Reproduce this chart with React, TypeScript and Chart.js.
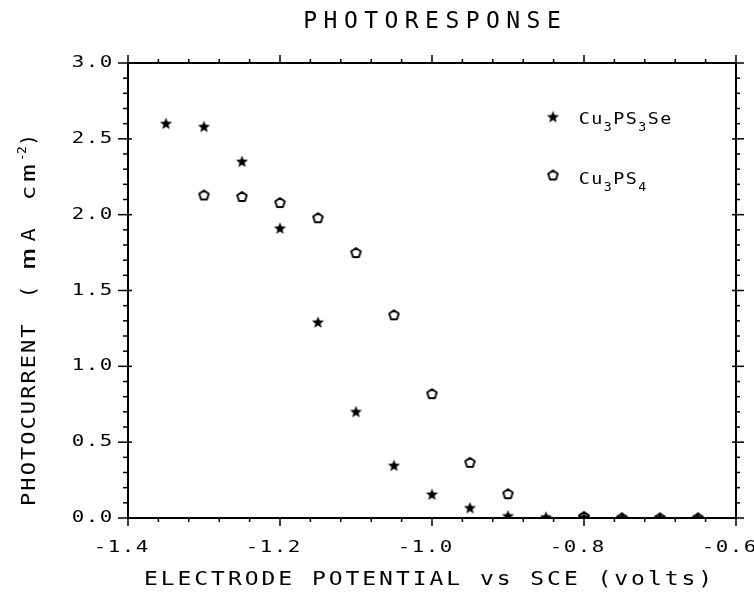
import React, { useEffect, useRef } from "react";
import { Chart, registerables } from "chart.js";

Chart.register(...registerables);

// ---------- data ----------
const cu3ps3sePotentials = [-1.35, -1.3, -1.25, -1.2, -1.15, -1.1, -1.05, -1.0, -0.95, -0.9, -0.85, -0.8, -0.75, -0.7, -0.65];
const cu3ps3seCurrent = [2.6, 2.58, 2.35, 1.91, 1.29, 0.7, 0.345, 0.155, 0.066, 0.013, 0.005, 0.005, 0.0, 0.0, 0.0];
const cu3ps4Potentials = [-1.3, -1.25, -1.2, -1.15, -1.1, -1.05, -1.0, -0.95, -0.9, -0.8, -0.75, -0.7, -0.65];
const cu3ps4Current = [2.13, 2.12, 2.08, 1.98, 1.75, 1.34, 0.82, 0.367, 0.16, 0.01, 0.0, 0.0, 0.0];

const xTickValues = [-1.4, -1.2, -1.0, -0.8, -0.6];
const xTickLabels = ["-1.4", "-1.2", "-1.0", "-0.8", "-0.6"];
const yTickValues = [0, 0.5, 1.0, 1.5, 2.0, 2.5, 3.0];
const yTickLabels = ["0.0", "0.5", "1.0", "1.5", "2.0", "2.5", "3.0"];
const xMinorStep = 0.04;
const yMinorStep = 0.1;

const chartTitle = "PHOTORESPONSE";
const xTitle = "ELECTRODE POTENTIAL vs SCE (volts)";

const MONO = '"DejaVu Sans Mono"';

function makeStar(): HTMLCanvasElement {
  const c = document.createElement("canvas");
  c.width = 15;
  c.height = 15;
  const g = c.getContext("2d")!;
  g.fillStyle = "#000";
  g.beginPath();
  const cx = 7.5, cy = 7.8, R = 6.3, r = 2.7;
  for (let i = 0; i < 10; i++) {
    const a = -Math.PI / 2 + (i * Math.PI) / 5;
    const rad = i % 2 === 0 ? R : r;
    const px = cx + rad * Math.cos(a);
    const py = cy + rad * Math.sin(a);
    if (i === 0) g.moveTo(px, py);
    else g.lineTo(px, py);
  }
  g.closePath();
  g.fill();
  return c;
}

function makePentagon(): HTMLCanvasElement {
  const c = document.createElement("canvas");
  c.width = 15;
  c.height = 15;
  const g = c.getContext("2d")!;
  g.strokeStyle = "#000";
  g.lineWidth = 1.9;
  g.lineJoin = "round";
  g.beginPath();
  const cx = 7.5, cy = 7.9, R = 5.0;
  for (let i = 0; i < 5; i++) {
    const a = -Math.PI / 2 + (i * 2 * Math.PI) / 5;
    const px = cx + R * Math.cos(a);
    const py = cy + R * Math.sin(a);
    if (i === 0) g.moveTo(px, py);
    else g.lineTo(px, py);
  }
  g.closePath();
  g.stroke();
  return c;
}

// draw monospaced text char by char in cells
function drawMono(
  ctx: CanvasRenderingContext2D,
  text: string,
  x: number,
  y: number,
  size: number,
  cell: number,
  sx: number,
  align: "left" | "center" | "right",
  baseline: CanvasTextBaseline = "middle"
) {
  ctx.save();
  ctx.font = `${size}px ${MONO}`;
  ctx.textAlign = "center";
  ctx.textBaseline = baseline;
  ctx.fillStyle = "#000";
  const total = text.length * cell;
  const start = align === "left" ? x : align === "right" ? x - total : x - total / 2;
  for (let i = 0; i < text.length; i++) {
    const cx = start + cell * (i + 0.5);
    ctx.save();
    ctx.translate(cx, y);
    ctx.scale(sx, 1);
    ctx.fillText(text[i], 0, 0);
    ctx.restore();
  }
  ctx.restore();
  return start + total;
}

// legend text with subscripts: segments [text, isSub]
function drawRich(
  ctx: CanvasRenderingContext2D,
  segs: [string, boolean][],
  x: number,
  baseY: number
) {
  let cur = x;
  for (const [t, sub] of segs) {
    if (sub) {
      cur = drawMono(ctx, t, cur, baseY + 7, 12, 9.5, 1.1, "left", "alphabetic");
    } else {
      cur = drawMono(ctx, t, cur, baseY, 16, 12.5, 1.15, "left", "alphabetic");
    }
  }
}

export default function App() {
  const ref = useRef<HTMLCanvasElement>(null);

  useEffect(() => {
    const canvas = ref.current!;
    const star = makeStar();
    const pent = makePentagon();

    const framePlugin = {
      id: "frameAndText",
      afterDraw(chart: any) {
        const ctx: CanvasRenderingContext2D = chart.ctx;
        const { left, right, top, bottom } = chart.chartArea;
        const xs = chart.scales.x;
        const ys = chart.scales.y;
        ctx.save();
        ctx.strokeStyle = "#000";
        ctx.lineWidth = 2;
        ctx.strokeRect(left, top, right - left, bottom - top);

        ctx.lineWidth = 1.5;
        const line = (x1: number, y1: number, x2: number, y2: number) => {
          ctx.beginPath();
          ctx.moveTo(x1, y1);
          ctx.lineTo(x2, y2);
          ctx.stroke();
        };
        const xMin = xTickValues[0];
        const xMax = xTickValues[xTickValues.length - 1];
        const nx = Math.round((xMax - xMin) / xMinorStep);
        for (let i = 0; i <= nx; i++) {
          const v = xMin + i * xMinorStep;
          const px = xs.getPixelForValue(v);
          const major = i % 5 === 0;
          line(px, bottom, px, bottom + (major ? 8 : 4));
          line(px, top, px, top - (major ? 8 : 4));
        }
        const yMin = yTickValues[0];
        const yMax = yTickValues[yTickValues.length - 1];
        const ny = Math.round((yMax - yMin) / yMinorStep);
        for (let j = 0; j <= ny; j++) {
          const v = yMin + j * yMinorStep;
          const py = ys.getPixelForValue(v);
          const major = j % 5 === 0;
          line(left - (major ? 10 : 5), py, left + (major ? 4 : 0), py);
          line(right - (major ? 4 : 0), py, right + (major ? 8 : 4), py);
        }

        // tick labels
        const cell = 14;
        xTickValues.forEach((v, i) => {
          const px = xs.getPixelForValue(v);
          drawMono(ctx, xTickLabels[i], px - cell / 2, 548, 16, cell, 1.3, "center");
        });
        yTickValues.forEach((v, i) => {
          const py = ys.getPixelForValue(v);
          drawMono(ctx, yTickLabels[i], 113, py, 16, cell, 1.3, "right");
        });

        // title
        drawMono(ctx, chartTitle, (left + right) / 2, 22, 23, 20.3, 1.0, "center");
        // x axis title
        drawMono(ctx, xTitle, 428, 580, 20, 16.8, 1.15, "center");

        // y axis title (rotated)
        ctx.save();
        ctx.translate(35, 0);
        ctx.rotate(-Math.PI / 2);
        drawMono(ctx, "PHOTOCURRENT", -507, 0, 20, 15.3, 1.1, "left", "alphabetic");
        const items: [string, number, number, number, number][] = [
          ["(", 292, 20, 0, 1.0],
          ["m", 259, 20, 0, 1.8],
          ["A", 235, 20, 0, 1.1],
          ["c", 193, 20, 0, 1.2],
          ["m", 173, 20, 0, 1.5],
          ["-", 157, 13, -9, 1.0],
          ["2", 150, 13, -9, 1.0],
          [")", 140, 20, 0, 1.0],
        ];
        for (const [ch, sy, sz, off, sxx] of items) {
          drawMono(ctx, ch, -sy, off, sz, 12, sxx, "center", "alphabetic");
        }
        ctx.restore();

        // legend
        ctx.drawImage(star, 553 - star.width / 2, 117 - star.height / 2);
        drawRich(ctx, [["Cu", false], ["3", true], ["PS", false], ["3", true], ["Se", false]], 578, 123.5);
        ctx.drawImage(pent, 553 - pent.width / 2, 175 - pent.height / 2);
        drawRich(ctx, [["Cu", false], ["3", true], ["PS", false], ["4", true]], 578, 183.5);

        ctx.restore();
      },
    };

    const chart = new Chart(canvas, {
      type: "scatter",
      data: {
        datasets: [
          {
            label: "Cu3PS3Se",
            data: cu3ps3sePotentials.map((x, i) => ({ x, y: cu3ps3seCurrent[i] })),
            pointStyle: star as any,
            pointRadius: 6,
            clip: 0 as any,
            showLine: false,
          },
          {
            label: "Cu3PS4",
            data: cu3ps4Potentials.map((x, i) => ({ x, y: cu3ps4Current[i] })),
            pointStyle: pent as any,
            pointRadius: 6,
            clip: 0 as any,
            showLine: false,
          },
        ],
      },
      options: {
        responsive: false,
        animation: false,
        events: [],
        layout: { padding: { top: 63, right: 18, left: 0, bottom: 0 } },
        plugins: {
          legend: { display: false },
          tooltip: { enabled: false },
          title: { display: false },
        },
        scales: {
          x: {
            type: "linear",
            min: xTickValues[0],
            max: xTickValues[xTickValues.length - 1],
            grid: { display: false },
            border: { display: false },
            ticks: { display: false },
            afterFit: (s: any) => {
              s.height = 76;
            },
          },
          y: {
            type: "linear",
            min: yTickValues[0],
            max: yTickValues[yTickValues.length - 1],
            grid: { display: false },
            border: { display: false },
            ticks: { display: false },
            afterFit: (s: any) => {
              s.width = 128;
            },
          },
        },
      },
      plugins: [framePlugin],
    });
    return () => chart.destroy();
  }, []);

  return (
    <div style={{ position: "fixed", left: 0, top: 0, width: 754, height: 594, background: "#fff" }}>
      <canvas ref={ref} width={754} height={594} style={{ display: "block" }} />
    </div>
  );
}
